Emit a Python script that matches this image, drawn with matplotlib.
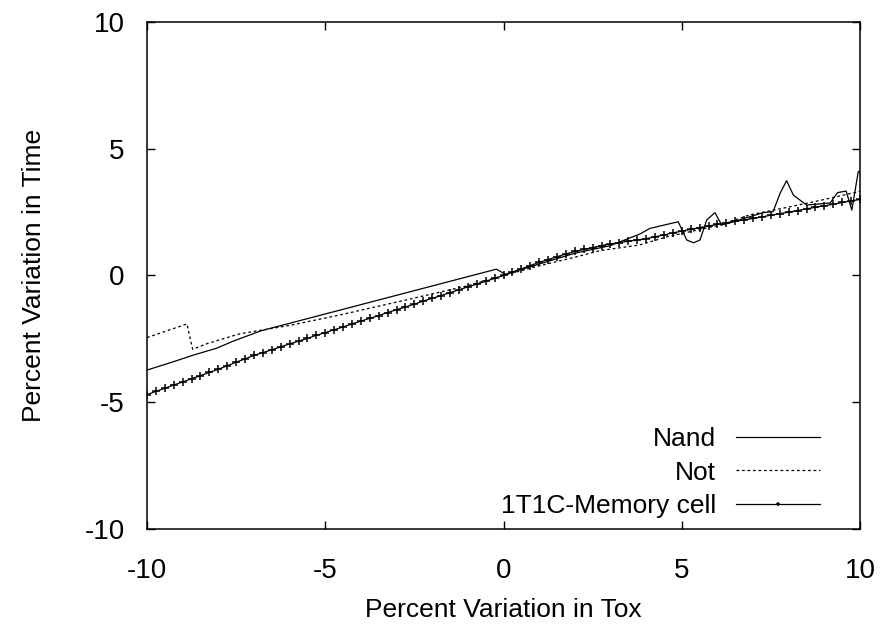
import numpy as np
import matplotlib
matplotlib.use("Agg")
import matplotlib.pyplot as plt

plt.rcParams['font.family'] = ['Liberation Sans Narrow', 'Liberation Sans', 'DejaVu Sans']
plt.rcParams['axes.unicode_minus'] = False

# Nand gate delay variation
nand_x = [-10, -9.3, -8.7, -8.05, -7.6, -6.8, -0.2, 0.05, 1.0, 2.0, 3.0, 3.83, 4.11,
          4.9, 5.14, 5.33, 5.51, 5.7, 5.93, 6.12, 6.45, 7.28, 7.56, 7.76, 7.94, 8.13,
          8.5, 9.16, 9.37, 9.61, 9.77, 9.95, 10.0]
nand_y = [-3.73, -3.42, -3.14, -2.87, -2.6, -2.18, 0.25, 0.05, 0.45, 0.88, 1.18, 1.64, 1.86,
          2.12, 1.40, 1.29, 1.40, 2.19, 2.48, 1.99, 2.12, 2.48, 2.52, 3.25, 3.74, 3.17,
          2.78, 2.86, 3.27, 3.33, 2.58, 4.1, 4.1]

# Not gate delay variation
not_x = [-10, -8.88, -8.72, -8.3, -7.4, -6.0, -4.6, -3.0, -1.0, 0.0, 1.0, 2.0, 2.7,
         3.8, 4.6, 6.1, 6.9, 8.0, 9.0, 10.0]
not_y = [-2.45, -1.91, -2.91, -2.68, -2.3, -1.97, -1.56, -1.05, -0.4, 0.0, 0.38, 0.72, 0.98,
         1.2, 1.53, 2.0, 2.39, 2.7, 3.0, 3.32]

# 1T1C memory cell, sampled every 0.25 % of Tox
mem_x = np.linspace(-10, 10, 81)
mem_y = [-4.70, -4.57, -4.45, -4.32, -4.20, -4.07, -3.95, -3.82, -3.70, -3.56,
         -3.42, -3.29, -3.15, -3.04, -2.93, -2.81, -2.70, -2.59, -2.48, -2.36,
         -2.25, -2.14, -2.03, -1.91, -1.80, -1.69, -1.58, -1.46, -1.35, -1.24,
         -1.13, -1.01, -0.90, -0.79, -0.68, -0.56, -0.45, -0.34, -0.23, -0.11,
         0.00, 0.13, 0.26, 0.39, 0.52, 0.63, 0.74, 0.85, 0.95, 1.03,
         1.10, 1.18, 1.25, 1.30, 1.35, 1.40, 1.45, 1.53, 1.60, 1.68,
         1.75, 1.82, 1.89, 1.95, 2.02, 2.08, 2.14, 2.19, 2.25, 2.31,
         2.38, 2.44, 2.50, 2.56, 2.63, 2.69, 2.75, 2.81, 2.88, 2.94, 3.00]

ticks = [-10, -5, 0, 5, 10]

fig = plt.figure(figsize=(8.84, 6.3), dpi=100)
ax = fig.add_axes([0.1663, 0.1603, 0.8066, 0.8048])

ax.plot(nand_x, nand_y, color="black", lw=0.9, label="Nand")
ax.plot(not_x, not_y, color="black", lw=0.9, linestyle=(0, (2.2, 2.2)), label="Not")
ax.plot(mem_x, mem_y, color="black", lw=0.9, marker="+", markersize=5.5,
        markeredgewidth=1.1, label="1T1C-Memory cell")

ax.set_xlim(-10, 10)
ax.set_ylim(-10, 10)
ax.set_xticks(ticks)
ax.set_yticks(ticks)
ax.tick_params(direction="in", length=6, width=1.0, top=True, right=True, labelsize=20)
ax.tick_params(axis="x", pad=21)
ax.tick_params(axis="y", pad=16)
for s in ax.spines.values():
    s.set_linewidth(1.1)

ax.set_xlabel("Percent Variation in Tox", fontsize=19, labelpad=10)
ax.set_ylabel("Percent Variation in Time", fontsize=19, labelpad=28)

leg = ax.legend(loc="lower right", bbox_to_anchor=(0.944, 0.022), frameon=False,
                markerfirst=False, fontsize=19, handlelength=3.2, handletextpad=0.75,
                labelspacing=0.35, borderaxespad=0, borderpad=0, markerscale=0.5)

fig.savefig("out.png", dpi=100)
